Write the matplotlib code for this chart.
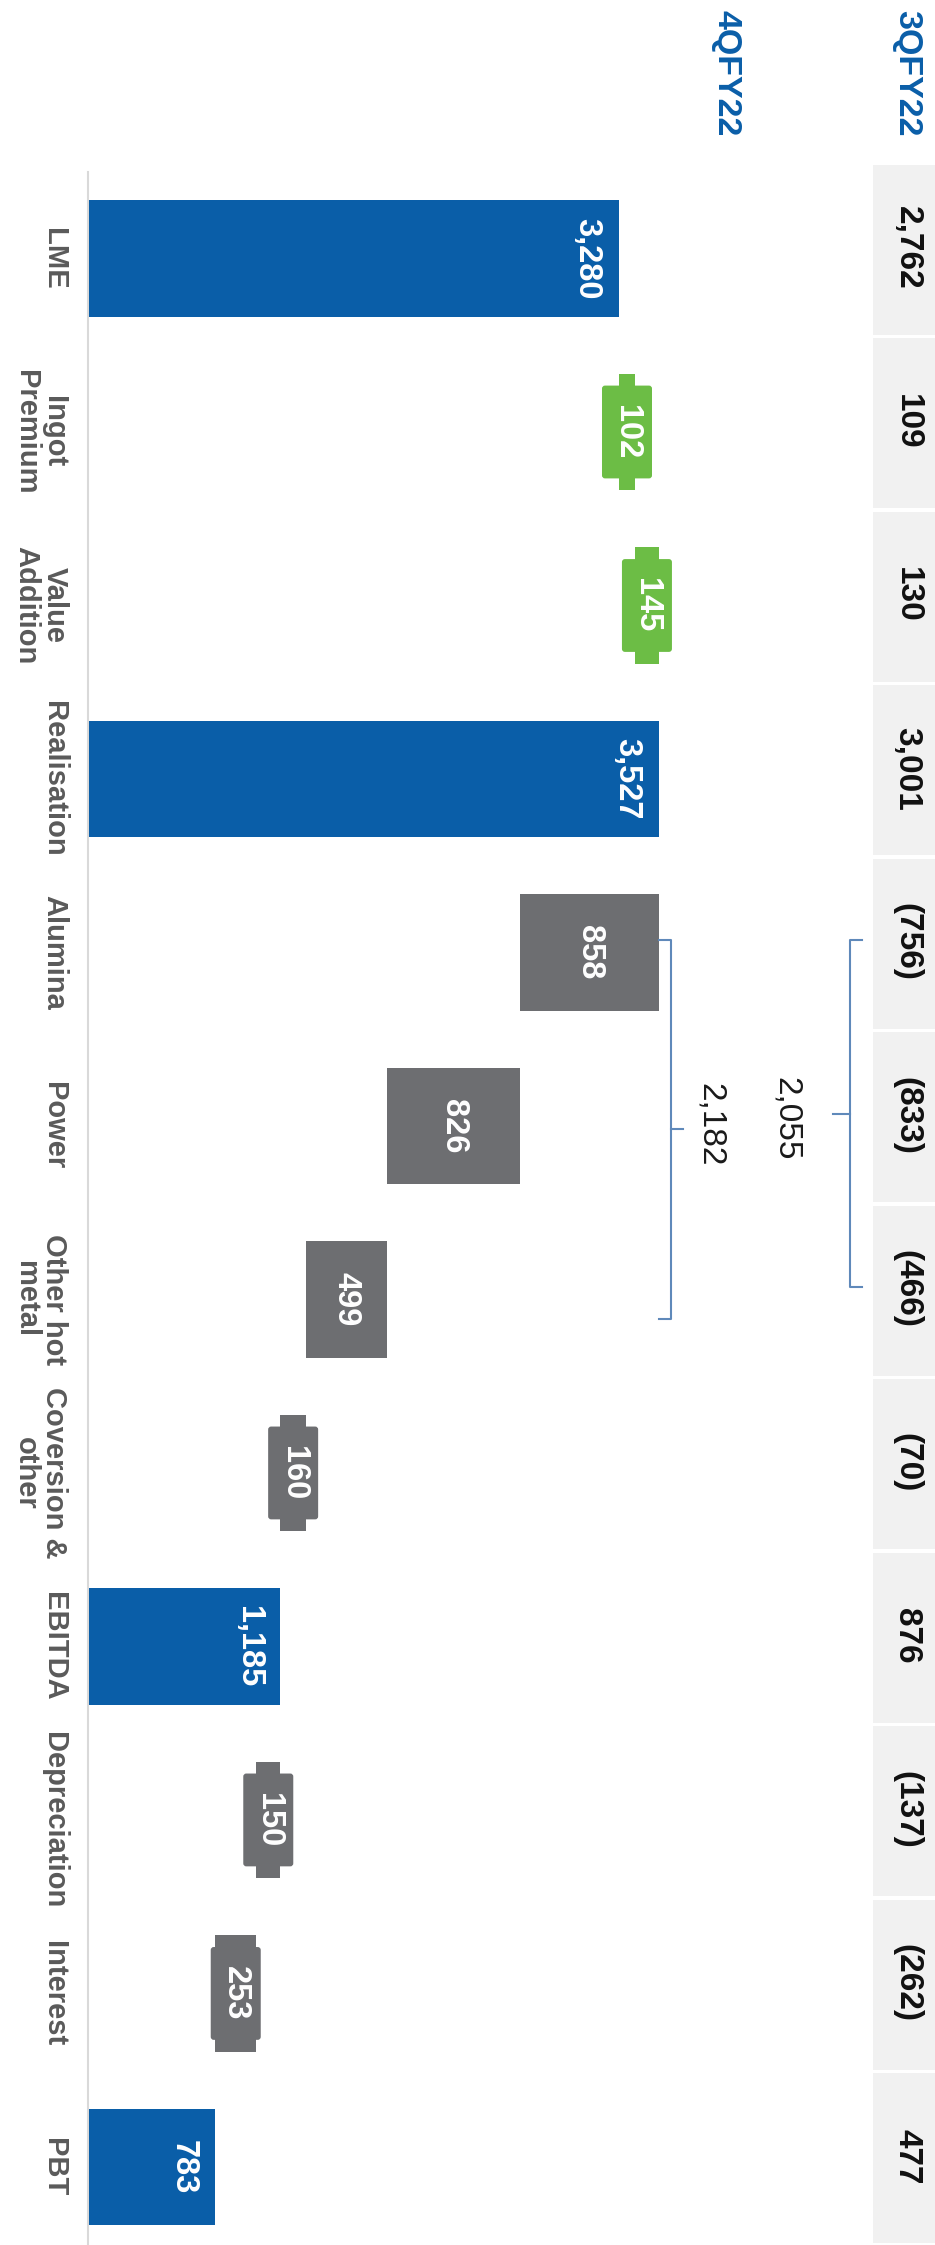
import matplotlib
matplotlib.use("Agg")
import matplotlib.pyplot as plt
from matplotlib.patches import Rectangle, FancyBboxPatch
import matplotlib.transforms as mtransforms

plt.rcParams['font.family'] = ['Liberation Sans', 'DejaVu Sans']

# ---- data -------------------------------------------------------------
categories = ["LME", "Ingot\nPremium", "Value\nAddition", "Realisation",
              "Alumina", "Power", "Other hot\nmetal", "Coversion &\nother",
              "EBITDA", "Depreciation", "Interest", "PBT"]
values_4q = [3280, 102, 145, 3527, 858, 826, 499, 160, 1185, 150, 253, 783]
kinds = ["total", "up", "up", "total", "down", "down", "down", "down",
         "total", "down", "down", "total"]
values_3q = [2762, 109, 130, 3001, -756, -833, -466, -70, 876, -137, -262, 477]
header_cur = "4QFY22"
header_prev = "3QFY22"
bracket_cur = 2182
bracket_prev = 2055
bracket_span = (4, 6)  # Alumina .. Other hot metal

# ---- styling ----------------------------------------------------------
BLUE = "#0a5ea8"
GREEN = "#6cbd45"
GREY = "#6d6e71"
LABEL_GREY = "#5a5a5a"
TABLE_BG = "#f1f1f1"
BRACKET = "#5f89ba"
colors = {"total": BLUE, "up": GREEN, "down": GREY}

fig = plt.figure(figsize=(9.35, 22.45), dpi=100)
ax = fig.add_axes([0, 0, 1, 1])
ax.set_xlim(-551, 5238)
ax.set_ylim(11.45, -1.49)
ax.axis("off")

px = (5238 + 551) / 935.0          # data units per horizontal pixel
py = (11.45 + 1.49) / 2245.0       # data units per vertical pixel
BAR_H = 0.67
BODY_H = 0.535
BODY_W = 50 * px

def fmt(v):
    s = f"{abs(v):,}"
    return f"({s})" if v < 0 else s

# ---- waterfall bars ---------------------------------------------------
running = 0
for i, (v, k) in enumerate(zip(values_4q, kinds)):
    if k == "total":
        base = 0
        running = v
    elif k == "up":
        base = running
        running += v
    else:
        running -= v
        base = running
    c = colors[k]
    ax.barh(i, v, left=base, height=BAR_H, color=c, edgecolor="none")
    if k == "total":
        ax.text(base + v - 32 * px, i, fmt(v), rotation=270, rotation_mode="anchor",
                ha="center", va="center", color="white", fontsize=23.5,
                fontweight="bold")
    else:
        mid = base + v / 2
        if v < BODY_W:
            ax.add_patch(FancyBboxPatch((mid - BODY_W / 2, i - BODY_H / 2), BODY_W, BODY_H,
                                        boxstyle=f"round,pad=0,rounding_size={3 * px}",
                                        mutation_aspect=py / px,
                                        facecolor=c, edgecolor="none"))
        ax.text(mid, i, fmt(v), rotation=270, rotation_mode="anchor",
                ha="center", va="center", color="white", fontsize=23.5,
                fontweight="bold")

# baseline
ax.plot([-6, -6], [-0.5, 11.45], color="#d9d9d9", lw=1.5, zorder=0)

# ---- category labels --------------------------------------------------
for i, lab in enumerate(categories):
    ax.text(-128, i, lab, rotation=270, rotation_mode="anchor", ha="center",
            va="top", multialignment="center", color=LABEL_GREY, fontsize=21,
            fontweight="bold", linespacing=1.0)

# ---- prior-quarter table column --------------------------------------
blend = mtransforms.blended_transform_factory(ax.transAxes, ax.transData)
x0_tab = 873 / 935.0
for i, v in enumerate(values_3q):
    ax.add_patch(Rectangle((x0_tab, i - 0.54), 1 - x0_tab, 0.98, transform=blend,
                           facecolor=TABLE_BG, edgecolor="none"))
    ax.text(0.970, i - 0.06, fmt(v), transform=blend, rotation=270,
            rotation_mode="anchor", ha="center", va="center", color="#111111",
            fontsize=24, fontweight="bold")

ax.text(0.970, -1.43, header_prev, transform=blend, rotation=270,
        rotation_mode="anchor", ha="left", va="center", color=BLUE,
        fontsize=24.5, fontweight="bold")
ax.text((726 - 89) * px, -1.43, header_cur, rotation=270, rotation_mode="anchor",
        ha="left", va="center", color=BLUE, fontsize=24.5, fontweight="bold")

# ---- brackets over the cost items ------------------------------------
a, b = bracket_span
realisation = values_4q[3]
xl = realisation
xv = xl + 12 * px
yt, yb = a - 0.07, b + 0.11
ym = (yt + yb) / 2
ax.plot([xl, xv, xv, xl], [yt, yt, yb, yb], color=BRACKET, lw=1.5)
ax.plot([xv, xv + 12 * px], [ym, ym], color=BRACKET, lw=1.5)
ax.text(xv + 40 * px, ym - 0.03, fmt(bracket_cur), rotation=270,
        rotation_mode="anchor", ha="center", va="center", color="#1a1a1a",
        fontsize=24)

xo = (850 - 89) * px
yt2, yb2 = a - 0.07, b - 0.07
ym2 = (yt2 + yb2) / 2
ax.plot([xo + 12 * px, xo, xo, xo + 12 * px], [yt2, yt2, yb2, yb2], color=BRACKET, lw=1.5)
ax.plot([xo, xo - 17 * px], [ym2, ym2], color=BRACKET, lw=1.5)
ax.text(xo - 64 * px, ym2 + 0.03, fmt(bracket_prev), rotation=270,
        rotation_mode="anchor", ha="center", va="center", color="#1a1a1a",
        fontsize=24)

fig.savefig("out.png", dpi=100, facecolor="white")
